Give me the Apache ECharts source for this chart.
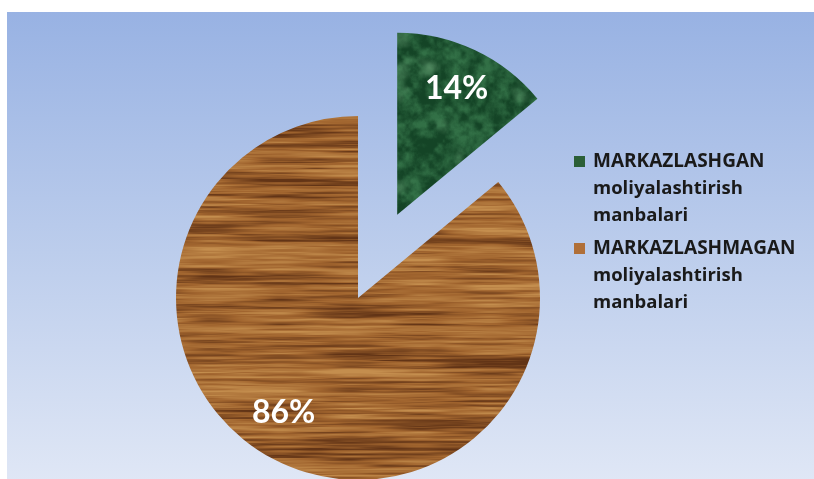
<!DOCTYPE html>
<html>
<head>
<meta charset="utf-8">
<script src="https://cdn.jsdelivr.net/npm/echarts@6/dist/echarts.min.js"></script>
<style>
  html, body { margin: 0; padding: 0; background: #fff; }
  #main { width: 814px; height: 479px; }
</style>
</head>
<body>
<div id="main"></div>
<script>
// 数据
const categories = ['MARKAZLASHGAN moliyalashtirish manbalari', 'MARKAZLASHMAGAN moliyalashtirish manbalari'];
const values = [14, 86];
const markerColors = ['#2b5f37', '#b06f38'];

// 纹理用的确定性噪声
function hash2(x, y) {
  const h = Math.sin(x * 12.9898 + y * 78.233) * 43758.5453;
  return h - Math.floor(h);
}
function vnoise(x, y) {
  const xi = Math.floor(x), yi = Math.floor(y);
  const xf = x - xi, yf = y - yi;
  const u = xf * xf * (3 - 2 * xf), v = yf * yf * (3 - 2 * yf);
  const a = hash2(xi, yi), b = hash2(xi + 1, yi), c = hash2(xi, yi + 1), d = hash2(xi + 1, yi + 1);
  return a + (b - a) * u + (c - a) * v + (a - b - c + d) * u * v;
}
function fbm(x, y, oct) {
  let s = 0, amp = 0.5, f = 1, n = 0;
  for (let i = 0; i < oct; i++) {
    s += amp * vnoise(x * f, y * f);
    n += amp; amp *= 0.5; f *= 2;
  }
  return s / n;
}
function lerpColor(c1, c2, t) {
  t = Math.max(0, Math.min(1, t));
  return [c1[0] + (c2[0] - c1[0]) * t, c1[1] + (c2[1] - c1[1]) * t, c1[2] + (c2[2] - c1[2]) * t];
}

// 木纹
function woodTexture() {
  const w = 600, h = 500;
  const cv = document.createElement('canvas');
  cv.width = w; cv.height = h;
  const ctx = cv.getContext('2d');
  const img = ctx.createImageData(w, h);
  const dark = [98, 52, 22], mid = [160, 100, 46], light = [196, 142, 78];
  for (let y = 0; y < h; y++) {
    for (let x = 0; x < w; x++) {
      const s = fbm(x / 70, y / 2.4, 3);
      const b = fbm(x / 260, y / 12, 2);
      const t = 0.65 * s + 0.35 * b;
      const k = (t - 0.25) / 0.5;
      const c = k < 0.5 ? lerpColor(dark, mid, k * 2) : lerpColor(mid, light, (k - 0.5) * 2);
      const i = (y * w + x) * 4;
      img.data[i] = c[0]; img.data[i + 1] = c[1]; img.data[i + 2] = c[2]; img.data[i + 3] = 255;
    }
  }
  ctx.putImageData(img, 0, 0);
  return cv;
}

// 绿色大理石
function marbleTexture() {
  const w = 600, h = 300;
  const cv = document.createElement('canvas');
  cv.width = w; cv.height = h;
  const ctx = cv.getContext('2d');
  const img = ctx.createImageData(w, h);
  const dark = [20, 68, 38], mid = [50, 112, 70], light = [105, 162, 118];
  for (let y = 0; y < h; y++) {
    for (let x = 0; x < w; x++) {
      const f = fbm(x / 8, y / 8, 4);
      const p = fbm(x / 30 + 7, y / 30 + 3, 3);
      let c = lerpColor(dark, mid, (f - 0.3) / 0.45);
      if (p > 0.62) c = lerpColor(c, light, (p - 0.62) / 0.15 * 0.35);
      const i = (y * w + x) * 4;
      img.data[i] = c[0]; img.data[i + 1] = c[1]; img.data[i + 2] = c[2]; img.data[i + 3] = 255;
    }
  }
  ctx.putImageData(img, 0, 0);
  return cv;
}

const fills = [
  { image: marbleTexture(), repeat: 'repeat' },
  { image: woodTexture(), repeat: 'repeat' }
];
const labelOffsets = [[-8, 6], [-15, -12]];

const chart = echarts.init(document.getElementById('main'), null, { renderer: 'canvas' });

const pieData = categories.map((name, i) => ({
  name,
  value: values[i],
  selected: i === 0,
  itemStyle: { color: fills[i] }
}));
const labelData = categories.map((name, i) => ({
  name,
  value: values[i],
  selected: i === 0,
  label: { offset: labelOffsets[i] }
}));

function legendText(name) {
  const idx = categories.indexOf(name);
  const parts = name.split(' ');
  return '{m' + idx + '|}{b|' + parts[0] + '}\n{t|' + parts[1] + '}\n{t|' + parts[2] + '}';
}

chart.setOption({
  animation: false,
  textStyle: { fontFamily: '"Open Sans", Lato, sans-serif' },
  graphic: [{
    type: 'rect',
    z: -10,
    silent: true,
    shape: { x: 7, y: 12, width: 820, height: 480 },
    style: {
      fill: new echarts.graphic.LinearGradient(0, 0, 0, 1, [
        { offset: 0, color: '#98b2e3' },
        { offset: 0.5, color: '#bccdec' },
        { offset: 1, color: '#e1e8f6' }
      ])
    }
  }],
  legend: {
    orient: 'vertical',
    left: 569,
    top: 152,
    padding: 0,
    itemGap: 14,
    itemWidth: 0,
    itemHeight: 27,
    icon: 'rect',
    itemStyle: { opacity: 0 },
    selectedMode: false,
    data: categories,
    formatter: legendText,
    textStyle: {
      rich: {
        m0: { width: 11, height: 11, backgroundColor: markerColors[0], lineHeight: 27 },
        m1: { width: 11, height: 11, backgroundColor: markerColors[1], lineHeight: 27 },
        b: { fontSize: 19, fontWeight: 'bold', color: '#1a1a1a', lineHeight: 27, padding: [0, 0, 0, 8], fontFamily: 'Open Sans' },
        t: { fontSize: 18.5, fontWeight: 'bold', color: '#1a1a1a', lineHeight: 27, padding: [0, 0, 0, 19], fontFamily: 'Open Sans' }
      }
    }
  },
  series: [
    {
      type: 'pie',
      center: [358, 298],
      radius: 182,
      startAngle: 90,
      clockwise: true,
      selectedMode: 'single',
      selectedOffset: 92,
      silent: true,
      label: { show: false },
      labelLine: { show: false },
      emphasis: { disabled: true },
      data: pieData
    },
    {
      // 只用于放置百分比标签
      type: 'pie',
      center: [358, 298],
      radius: [91, 182],
      startAngle: 90,
      clockwise: true,
      selectedMode: 'single',
      selectedOffset: 92,
      silent: true,
      z: 3,
      itemStyle: { color: 'rgba(0,0,0,0)' },
      label: {
        show: true,
        position: 'inside',
        formatter: '{d}%',
        color: '#fff',
        fontSize: 32,
        fontWeight: 'bold',
        fontFamily: 'Lato',
        textBorderWidth: 0
      },
      labelLine: { show: false },
      emphasis: { disabled: true },
      data: labelData
    }
  ]
});
</script>
</body>
</html>
